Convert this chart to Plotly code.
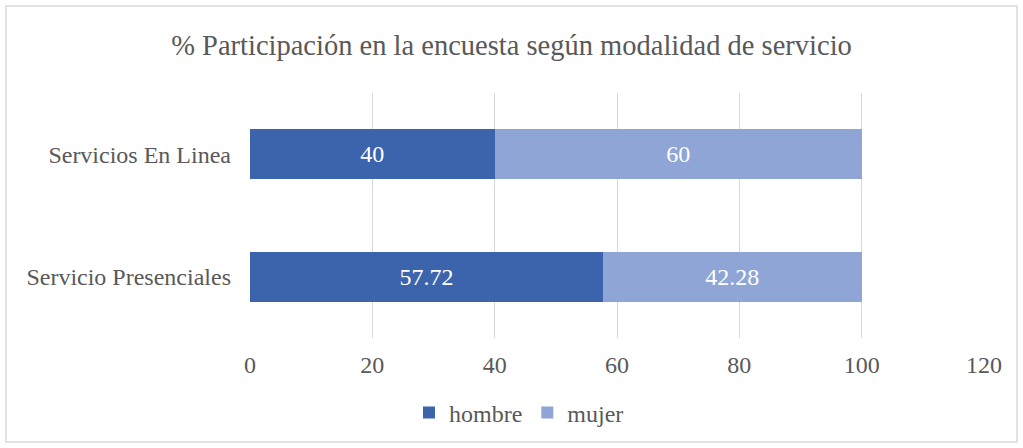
import plotly.graph_objects as go

categories = ["Servicio Presenciales", "Servicios En Linea"]
hombre = [57.72, 40]
mujer = [42.28, 60]
x_ticks = [0, 20, 40, 60, 80, 100, 120]

FONT = "Liberation Serif"
GREY = "#595959"
FS = 24

fig = go.Figure()
fig.add_trace(go.Bar(
    y=categories, x=hombre, name="hombre", orientation="h",
    marker=dict(color="#3C64AD", line=dict(width=0)),
    text=[str(v) for v in hombre], textposition="inside",
    insidetextanchor="middle", textangle=0,
    textfont=dict(color="white", size=FS, family=FONT),
))
fig.add_trace(go.Bar(
    y=categories, x=mujer, name="mujer", orientation="h",
    marker=dict(color="#8FA5D6", line=dict(width=0)),
    text=[str(v) for v in mujer], textposition="inside",
    insidetextanchor="middle", textangle=0,
    textfont=dict(color="white", size=FS, family=FONT),
))

W, H = 1023, 448
L, R, T, B = 250, 39, 93, 110
pw, ph = W - L - R, H - T - B

def px(x):
    return (x - L) / pw

def py(y):
    return (H - B - y) / ph

fig.update_layout(
    width=W, height=H,
    barmode="stack", bargap=0.59,
    margin=dict(l=L, r=R, t=T, b=B),
    paper_bgcolor="white", plot_bgcolor="white",
    font=dict(family=FONT, color=GREY, size=FS),
    title=dict(text="% Participación en la encuesta según modalidad de servicio",
               x=0.5, xanchor="center", y=1 - 45 / H, yanchor="middle",
               font=dict(size=28.5, color=GREY, family=FONT)),
    xaxis=dict(range=[0, 120], tickvals=x_ticks, showgrid=True,
               gridcolor="#D9D9D9", gridwidth=1, zeroline=False,
               showline=False, ticks="", ticklabelstandoff=10,
               tickfont=dict(size=FS, color=GREY, family=FONT)),
    yaxis=dict(range=[-0.5, 1.5], showgrid=False, zeroline=False,
               showline=False, ticks="", ticklabelstandoff=18,
               tickfont=dict(size=FS, color=GREY, family=FONT)),
    legend=dict(orientation="h", x=px(519), xanchor="center",
                y=py(413), yanchor="middle",
                font=dict(size=FS, color=GREY, family=FONT), itemwidth=30,
                traceorder="normal"),
    showlegend=True,
    shapes=[dict(type="rect", xref="paper", yref="paper",
                 x0=px(6), x1=px(1017), y0=py(442), y1=py(6),
                 line=dict(color="#D9D9D9", width=1.5), layer="below")],
)

fig.write_html("out.html", config={"displayModeBar": False},
               post_script="document.body.style.margin='0';document.body.style.overflow='hidden';")
